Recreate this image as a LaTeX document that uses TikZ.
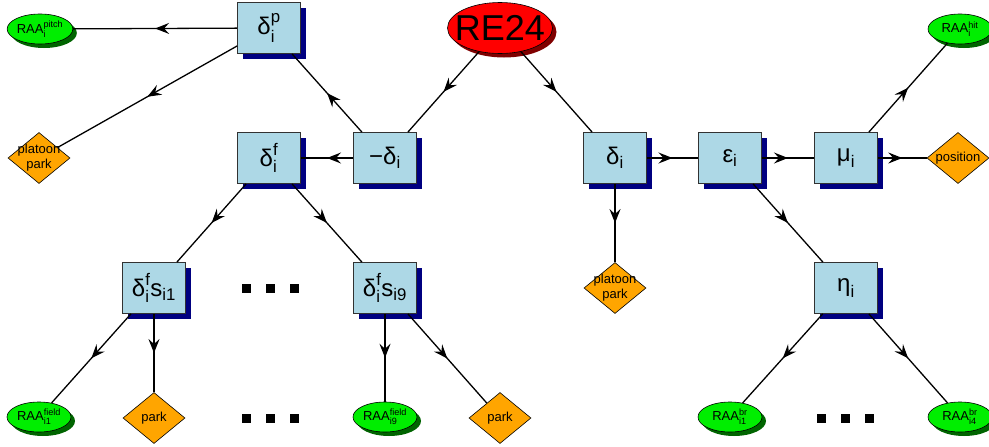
\documentclass[tikz,border=0pt]{standalone}
\usepackage{amsmath}
\usepackage{fontspec}
\setmainfont{Liberation Sans}
\usetikzlibrary{shapes.geometric,shadows,arrows.meta,decorations.markings}
\definecolor{boxblue}{RGB}{173,216,230}
\definecolor{shadowblue}{RGB}{0,0,128}
\definecolor{raagreen}{RGB}{0,238,0}
\definecolor{raashadow}{RGB}{0,100,0}
\definecolor{rered}{RGB}{255,0,0}
\definecolor{reshadow}{RGB}{128,0,0}
\definecolor{diaorange}{RGB}{255,165,0}
\definecolor{boxedge}{RGB}{50,50,50}
\newcommand{\tx}[1]{\text{#1}}
\tikzset{
  stepbox/.style={rectangle, draw=boxedge, line width=0.8pt, fill=boxblue,
    minimum width=63pt, minimum height=51pt, inner sep=0pt,
    font=\fontsize{24}{28}\selectfont,
    general shadow={fill=shadowblue, shadow xshift=5pt, shadow yshift=-5pt}},
  raa/.style={ellipse, draw=black, line width=0.6pt, fill=raagreen,
    minimum width=64pt, minimum height=30pt, inner sep=0pt,
    font=\fontsize{13}{15}\selectfont,
    general shadow={fill=raashadow, shadow xshift=4pt, shadow yshift=-4pt}},
  rootell/.style={ellipse, draw=black, line width=0.6pt, fill=rered,
    minimum width=105pt, minimum height=51pt, inner sep=0pt,
    general shadow={fill=reshadow, shadow xshift=4pt, shadow yshift=-4pt}},
  rlab/.style={font=\fontsize{36}{40}\selectfont},
  dia/.style={diamond, draw=black, line width=0.6pt, fill=diaorange,
    minimum width=62pt, minimum height=51pt, inner sep=0pt},
  dlab/.style={font=\fontsize{13}{15}\selectfont, align=center},
  conn/.style={line width=1.3pt, postaction={decorate, decoration={markings,
    mark=at position 0.5 with {\arrow{Stealth[length=14pt,width=11pt,inset=5pt]}}}}},
  sq/.style={fill=black, minimum size=9pt, inner sep=0pt}
}
\begin{document}
\begin{tikzpicture}[x=1pt,y=-1pt]
\useasboundingbox (0,0) rectangle (989,447);
% boxes
\node[stepbox] (dp)  at (269,28)  {$\tx{δ}^{\tx{p}}_{\tx{i}}$};
\node[stepbox] (df)  at (269,158) {$\tx{δ}^{\tx{f}}_{\tx{i}}$};
\node[stepbox] (mdi) at (385,158) {$\tx{−δ}_{\tx{i}}$};
\node[stepbox] (di)  at (615,158) {$\tx{δ}_{\tx{i}}$};
\node[stepbox] (eps) at (730,158) {$\tx{ε}_{\tx{i}}$};
\node[stepbox] (mu)  at (846,158) {$\tx{μ}_{\tx{i}}$};
\node[stepbox] (s1)  at (154,288) {$\tx{δ}^{\tx{f}}_{\tx{i}}\tx{s}_{\tx{i1}}$};
\node[stepbox] (s9)  at (385,288) {$\tx{δ}^{\tx{f}}_{\tx{i}}\tx{s}_{\tx{i9}}$};
\node[stepbox] (eta) at (846,288) {$\tx{η}_{\tx{i}}$};
% root
\node[rootell, label={[rlab]center:RE24}] (re) at (500,28) {};
% RAA ellipses
\node[raa] (pitch) at (40,29)  {RAA$^{\tx{pitch}}_{\tx{i}}$};
\node[raa] (hit)   at (960,29) {RAA$^{\tx{hit}}_{\tx{i}}$};
\node[raa] (f1)    at (39,417) {RAA$^{\tx{field}}_{\tx{i1}}$};
\node[raa] (f9)    at (385,417) {RAA$^{\tx{field}}_{\tx{i9}}$};
\node[raa] (b1)    at (730,417) {RAA$^{\tx{br}}_{\tx{i1}}$};
\node[raa] (b4)    at (960,417) {RAA$^{\tx{br}}_{\tx{i4}}$};
% diamonds
\node[dia, label={[dlab]center:platoon\\park}] (pp1) at (39,158) {};
\node[dia, label={[dlab]center:position}] (pos) at (958,158) {};
\node[dia, label={[dlab]center:platoon\\park}] (pp2) at (615,288) {};
\node[dia, label={[dlab]center:park}] (pk1) at (154,418) {};
\node[dia, label={[dlab]center:park}] (pk9) at (500,418) {};
% dots
\node[sq] (d1a) at (246,288) {}; \node[sq] (d1b) at (270,288) {}; \node[sq] (d1c) at (294,288) {};
\node[sq] (d2a) at (246,418) {}; \node[sq] (d2b) at (270,418) {}; \node[sq] (d2c) at (294,418) {};
\node[sq] (d3a) at (821,418) {}; \node[sq] (d3b) at (845,418) {}; \node[sq] (d3c) at (869,418) {};
% connectors
\draw[conn] (dp) -- (pitch);
\draw[conn] (dp) -- (pp1);
\draw[conn] (mdi) -- (dp);
\draw[conn] (mdi) -- (df);
\draw[conn] (re) -- (mdi);
\draw[conn] (re) -- (di);
\draw[conn] (di) -- (eps);
\draw[conn] (eps) -- (mu);
\draw[conn] (mu) -- (pos);
\draw[conn] (mu) -- (hit);
\draw[conn] (eps) -- (eta);
\draw[conn] (di) -- (pp2);
\draw[conn] (df) -- (s1);
\draw[conn] (df) -- (s9);
\draw[conn] (s1) -- (f1);
\draw[conn] (s1) -- (pk1);
\draw[conn] (s9) -- (f9);
\draw[conn] (s9) -- (pk9);
\draw[conn] (eta) -- (b1);
\draw[conn] (eta) -- (b4);
\end{tikzpicture}
\end{document}
